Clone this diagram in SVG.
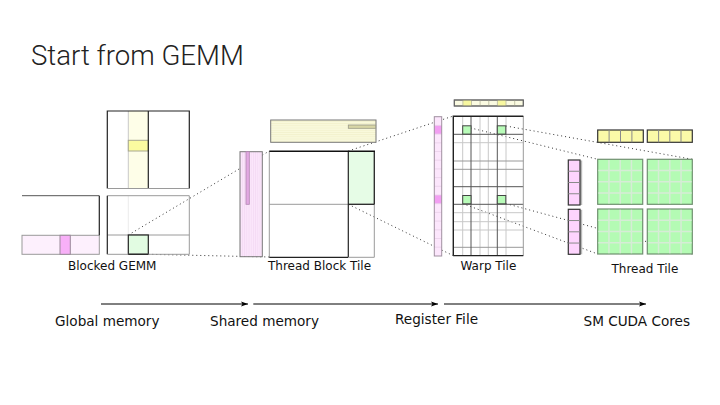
<svg xmlns="http://www.w3.org/2000/svg" width="720" height="405" viewBox="0 0 720 405">
<style>
.lbl{font-family:"DejaVu Sans",Verdana,sans-serif;font-size:12px;fill:#111}
.mem{font-family:"DejaVu Sans",Verdana,sans-serif;font-size:13.6px;fill:#111}
.title{font-family:Roboto,"Open Sans",sans-serif;font-weight:300;font-size:27.6px;fill:#222}
.dot{fill:none;stroke:#333;stroke-width:1;stroke-dasharray:1 3}
.dk{stroke:#222;stroke-width:1.2;fill:none}
.gr{stroke:#9a9a9a;stroke-width:1;fill:none}
.lt{stroke:#c8c8c8;stroke-width:1;fill:none}
.arrow{stroke:#000;stroke-width:1;fill:none;marker-end:url(#ah)}
.tg{fill:#b4fbb4;stroke:#6f8f6f;stroke-width:1.2}
.tgl{stroke:#d6ecd6;stroke-width:1.5;fill:none}
.ty{fill:#fbfaa8;stroke:#333;stroke-width:1.2}
.tp{fill:#fdd4fd;stroke:#333;stroke-width:1.2}
.div{stroke:#8a8a8a;stroke-width:1;fill:none}
</style>
<defs>
<marker id="ah" markerWidth="8" markerHeight="6" refX="7" refY="3" orient="auto" markerUnits="userSpaceOnUse">
<path d="M0,0.5 L7,3 L0,5.5 L1.5,3 Z" fill="#000"/>
</marker>
<pattern id="hstripe" width="4" height="2.2" patternUnits="userSpaceOnUse">
<rect width="4" height="2.2" fill="#f9f9dc"/>
<line x1="0" y1="0.5" x2="4" y2="0.5" stroke="#ecebc4" stroke-width="0.6"/>
</pattern>
<pattern id="vstripe" width="2.2" height="4" patternUnits="userSpaceOnUse">
<rect width="2.2" height="4" fill="#fbe6fb"/>
<line x1="0.5" y1="0" x2="0.5" y2="4" stroke="#efd2ef" stroke-width="0.6"/>
</pattern>
</defs>
<rect width="720" height="405" fill="#fff"/>
<text class="title" x="31" y="65">Start from GEMM</text>

<g id="connectors">
<line class="dot" x1="128.3" y1="235" x2="269.3" y2="151"/>
<line class="dot" x1="148.3" y1="254.3" x2="269.3" y2="257"/>
<line class="dot" x1="348.3" y1="151" x2="453.3" y2="116"/>
<line class="dot" x1="348.3" y1="204.3" x2="453.3" y2="255.7"/>
<line class="dot" x1="462.7" y1="126" x2="597.7" y2="159.3"/>
<line class="dot" x1="506" y1="126" x2="692.3" y2="159.3"/>
<line class="dot" x1="462.7" y1="203.6" x2="597.7" y2="254"/>
<line class="dot" x1="506" y1="203.6" x2="692.3" y2="254"/>
</g>

<g id="node-blocked-gemm">
<rect x="128.3" y="111" width="20" height="77.5" fill="#fefee8"/>
<line class="lt" x1="128.3" y1="111" x2="128.3" y2="188.5"/>
<rect x="128.3" y="140.3" width="20" height="10.7" fill="#fbfba0" stroke="#a8a890" stroke-width="1"/>
<line class="dk" x1="148.3" y1="111" x2="148.3" y2="188.5"/>
<path class="dk" d="M107.3,188.5 V111 H189.3 V188.5"/>
<line class="gr" x1="107.3" y1="188.5" x2="189.3" y2="188.5"/>
<rect x="22" y="235.3" width="77.3" height="19" fill="#fdf0fd" stroke="#9a9a9a" stroke-width="1"/>
<rect x="60" y="235.3" width="10.3" height="19" fill="#f8b0f8" stroke="#9a8a9a" stroke-width="1"/>
<line x1="22" y1="195.7" x2="99.3" y2="195.7" stroke="#555" stroke-width="1"/>
<line class="dk" x1="99.3" y1="195.7" x2="99.3" y2="235.3"/>
<line x1="128.3" y1="195.7" x2="128.3" y2="235" stroke="#ececec" stroke-width="1"/>
<line class="gr" x1="107.3" y1="235" x2="189.3" y2="235"/>
<rect x="128.3" y="235" width="20" height="19.3" fill="#e2fce2" stroke="#222" stroke-width="1.2"/>
<line class="gr" x1="107.3" y1="195.7" x2="189.3" y2="195.7"/>
<line class="gr" x1="189.3" y1="195.7" x2="189.3" y2="254.3"/>
<line class="dk" x1="107.3" y1="195.7" x2="107.3" y2="254.3"/>
<line class="gr" x1="107.3" y1="254.3" x2="189.3" y2="254.3"/>
<line class="dk" x1="128.3" y1="254.3" x2="148.3" y2="254.3"/>
<text class="lbl" x="68" y="270">Blocked GEMM</text>
</g>

<g id="node-thread-block-tile">
<rect x="270.7" y="120" width="105.3" height="22.3" fill="url(#hstripe)" stroke="#777" stroke-width="1"/>
<rect x="348.3" y="125" width="27.4" height="3.3" fill="#d8d6a6" stroke="#9a9a88" stroke-width="0.8"/>
<rect x="240" y="151.7" width="22.3" height="105" fill="url(#vstripe)" stroke="#777" stroke-width="1"/>
<rect x="246" y="151.7" width="3.3" height="52.6" fill="#e2a8e2" stroke="#b286b2" stroke-width="0.8"/>
<rect x="348.3" y="151" width="26" height="53.3" fill="#e6fce6"/>
<line class="gr" x1="269.3" y1="151" x2="269.3" y2="257.3"/>
<line class="gr" x1="374.3" y1="151" x2="374.3" y2="257.3"/>
<line class="gr" x1="269.3" y1="204.3" x2="374.3" y2="204.3"/>
<line class="dk" x1="348.3" y1="204.3" x2="374.3" y2="204.3"/>
<line class="dk" x1="348.3" y1="151" x2="348.3" y2="257.3"/>
<line class="dk" x1="374.3" y1="151" x2="374.3" y2="204.3" stroke-width="1.2"/>
<line x1="269.3" y1="151.3" x2="375" y2="151.3" stroke="#111" stroke-width="1.6"/>
<line class="dk" x1="269.3" y1="257.3" x2="348.3" y2="257.3"/>
<line class="gr" x1="348.3" y1="257.3" x2="374.3" y2="257.3"/>
<text class="lbl" x="268" y="269.5">Thread Block Tile</text>
</g>

<g id="node-warp-tile">
<rect x="454.3" y="100" width="69" height="6" fill="#fbfbe2" stroke="#666" stroke-width="1"/>
<rect x="462.9" y="100" width="8.6" height="6" fill="#f8f8a0"/>
<rect x="497.4" y="100" width="8.6" height="6" fill="#f8f8a0"/>
<path d="M462.9,100V106M471.5,100V106M480.1,100V106M488.8,100V106M497.4,100V106M506,100V106M514.7,100V106" stroke="#c4c4a8" stroke-width="1"/>
<rect x="454.3" y="100" width="69" height="6" fill="none" stroke="#666" stroke-width="1"/>
<rect x="434.3" y="116.7" width="7.4" height="139.3" fill="#fce6fc"/>
<rect x="434.3" y="125.4" width="7.4" height="8.7" fill="#f29ef2"/>
<rect x="434.3" y="195" width="7.4" height="8.7" fill="#f29ef2"/>
<path d="M434.3,125.4h7.4M434.3,134.1h7.4M434.3,142.8h7.4M434.3,151.5h7.4M434.3,160.2h7.4M434.3,168.9h7.4M434.3,177.6h7.4M434.3,186.3h7.4M434.3,195h7.4M434.3,203.7h7.4M434.3,212.4h7.4M434.3,221.1h7.4M434.3,229.8h7.4M434.3,238.5h7.4M434.3,247.2h7.4" stroke="#ead0ea" stroke-width="0.8"/>
<rect x="434.3" y="116.7" width="7.4" height="139.3" fill="none" stroke="#a090a0" stroke-width="1"/>
<path class="lt" d="M462.7,116V255.7M480,116V255.7M488.3,116V255.7M506,116V255.7M453.3,142.7H523.3M453.3,212.7H523.3M453.3,221.7H523.3M453.3,230H523.3"/>
<path d="M453.3,161H523.3M453.3,169.3H523.3M453.3,247.3H523.3" stroke="#999" stroke-width="1" fill="none"/>
<path d="M471,116V255.7M497.3,116V255.7M453.3,134.3H523.3M453.3,186.7H523.3M453.3,204.3H523.3" stroke="#555" stroke-width="1" fill="none"/>
<line class="gr" x1="523.3" y1="116" x2="523.3" y2="255.7"/>
<path d="M453.3,255.7V116.3H523.3" stroke="#222" stroke-width="1.4" fill="none"/>
<line class="dk" x1="453.3" y1="255.7" x2="523.3" y2="255.7"/>
<rect x="462.7" y="125.8" width="8.3" height="8.3" fill="#b8fbb8" stroke="#444" stroke-width="1"/>
<rect x="497.3" y="125.8" width="8.5" height="8.3" fill="#b8fbb8" stroke="#444" stroke-width="1"/>
<rect x="462.7" y="195.5" width="8.3" height="8.3" fill="#b8fbb8" stroke="#444" stroke-width="1"/>
<rect x="497.3" y="195.5" width="8.5" height="8.3" fill="#b8fbb8" stroke="#444" stroke-width="1"/>
<text class="lbl" x="460.5" y="269.5">Warp Tile</text>
</g>

<g id="node-thread-tile">
<rect class="ty" x="597.7" y="130" width="45.6" height="12.3"/>
<path class="div" d="M609.1,130V142.3M620.5,130V142.3M631.9,130V142.3"/>
<rect class="ty" x="647.3" y="130" width="45" height="12.3"/>
<path class="div" d="M658.6,130V142.3M669.8,130V142.3M681,130V142.3"/>
<rect x="580" y="160.5" width="2.2" height="44.5" fill="#b8b8b8"/>
<rect x="580" y="209.8" width="2.2" height="44.5" fill="#b8b8b8"/>
<rect class="tp" x="568.3" y="160" width="11.7" height="45"/>
<path class="div" d="M568.3,171.25H580M568.3,182.5H580M568.3,193.75H580"/>
<rect class="tp" x="568.3" y="209.3" width="11.7" height="45"/>
<path class="div" d="M568.3,220.55H580M568.3,231.8H580M568.3,243.05H580"/>
<rect class="tg" x="597.7" y="159.3" width="45" height="45"/>
<path class="tgl" d="M608.95,160V203.6M620.2,160V203.6M631.45,160V203.6M598.4,170.55H642M598.4,181.8H642M598.4,193.05H642"/>
<rect class="tg" x="647.3" y="159.3" width="45" height="45"/>
<path class="tgl" d="M658.55,160V203.6M669.8,160V203.6M681.05,160V203.6M648,170.55H691.6M648,181.8H691.6M648,193.05H691.6"/>
<rect class="tg" x="597.7" y="209" width="45" height="45"/>
<path class="tgl" d="M608.95,209.7V253.3M620.2,209.7V253.3M631.45,209.7V253.3M598.4,220.25H642M598.4,231.5H642M598.4,242.75H642"/>
<rect class="tg" x="647.3" y="209" width="45" height="45"/>
<path class="tgl" d="M658.55,209.7V253.3M669.8,209.7V253.3M681.05,209.7V253.3M648,220.25H691.6M648,231.5H691.6M648,242.75H691.6"/>
<text class="lbl" x="611.5" y="272.5">Thread Tile</text>
</g>

<g id="memory-flow">
<line class="arrow" x1="101" y1="304" x2="248" y2="304"/>
<line class="arrow" x1="253.3" y1="304" x2="438" y2="304"/>
<line class="arrow" x1="444" y1="304" x2="646" y2="304"/>
<text class="mem" x="55" y="326">Global memory</text>
<text class="mem" x="210" y="326">Shared memory</text>
<text class="mem" x="395" y="323.5">Register File</text>
<text class="mem" x="583.5" y="325.5">SM CUDA Cores</text>
</g>
</svg>
